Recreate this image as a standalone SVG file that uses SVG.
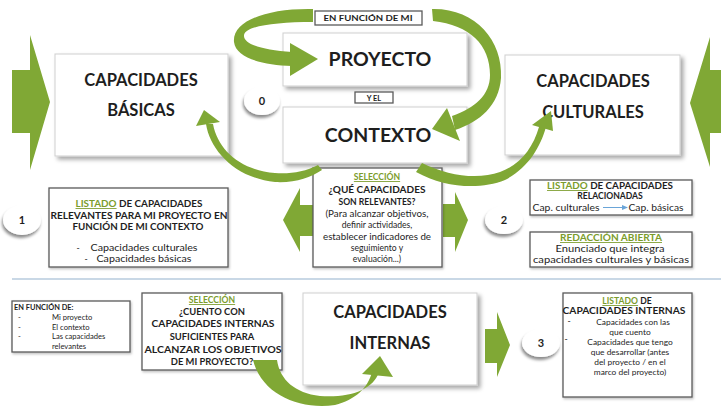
<svg xmlns="http://www.w3.org/2000/svg" width="721" height="408" viewBox="0 0 721 408">
<style>
text{font-family:Lato,"Liberation Sans",sans-serif;fill:#1e1e1e;text-anchor:middle}
.big{font-size:16.5px;font-weight:bold}
.huge{font-size:19.5px;font-weight:bold}
.b{font-size:8.6px;font-weight:bold}
.r{font-size:8.6px}
.s{font-size:7.4px;font-weight:bold}
.g{fill:#7b9c2c;text-decoration:underline}
.node{fill:#fff;stroke:#cfcfcf;stroke-width:1}
.box{fill:#fff;stroke:#5a5a5a;stroke-width:1.3}
.arr{fill:#80a835}
.circ{fill:#fff}
</style>
<defs>
<filter id="sh" x="-10%" y="-10%" width="130%" height="140%"><feDropShadow dx="3" dy="3" stdDeviation="2" flood-color="#000" flood-opacity="0.35"/></filter>
<filter id="csh" x="-30%" y="-30%" width="160%" height="180%"><feDropShadow dx="-1" dy="3" stdDeviation="1.5" flood-color="#000" flood-opacity="0.45"/></filter>
<filter id="bsh" x="-10%" y="-10%" width="130%" height="140%"><feDropShadow dx="1" dy="1.5" stdDeviation="1" flood-color="#000" flood-opacity="0.25"/></filter>
</defs>
<rect width="721" height="408" fill="#fff"/>
<line x1="12" y1="279" x2="721" y2="279" stroke="#c9d8e6" stroke-width="2"/>

<g id="big-arrows" class="arr">
<polygon points="12,70 30,70 30,35 50,102 30,170 30,133 12,133"/>
<polygon points="721,70 710,70 710,37 690,103 710,167 710,133 721,133"/>
<polygon points="313,205 300,205 300,188 283,220 300,252 300,236 313,236"/>
<polygon points="443,204 455,204 455,192 468,220 455,252 455,237 443,237"/>
<polygon points="485,329 497,329 497,312 510,345 497,377 497,363 485,363"/>
</g>

<g id="basicas">
<rect class="node" x="55" y="54" width="173" height="102" filter="url(#sh)"/>
<text class="big" x="141" y="86">CAPACIDADES</text>
<text class="big" x="141" y="116">BÁSICAS</text>
</g>
<g id="culturales">
<rect class="node" x="505" y="55" width="175" height="100" filter="url(#sh)"/>
<text class="big" x="593" y="87">CAPACIDADES</text>
<text class="big" x="593" y="118">CULTURALES</text>
</g>
<g id="proyecto">
<rect class="node" x="283" y="33" width="184" height="53" filter="url(#sh)"/>
<text class="huge" x="380" y="66">PROYECTO</text>
</g>
<g id="contexto">
<rect class="node" x="283" y="107" width="184" height="56" filter="url(#sh)"/>
<text class="huge" x="378" y="142">CONTEXTO</text>
</g>
<g id="en-funcion-mi">
<rect class="box" x="315" y="11" width="107" height="14"/>
<text class="s" x="368" y="21" textLength="89" lengthAdjust="spacingAndGlyphs">EN FUNCIÓN DE MI</text>
</g>
<g id="y-el">
<rect class="box" x="355" y="92" width="38" height="11"/>
<text class="s" x="374" y="101">Y EL</text>
</g>
<g id="c0">
<ellipse class="circ" cx="262" cy="101" rx="18" ry="14" filter="url(#csh)"/>
<text class="b" x="262" y="105" style="font-size:11px">0</text>
</g>
<g id="c1">
<ellipse class="circ" cx="22" cy="220" rx="19" ry="15" filter="url(#csh)"/>
<text class="b" x="22" y="224" style="font-size:11px">1</text>
</g>
<g id="c2">
<ellipse class="circ" cx="504" cy="220" rx="19" ry="14" filter="url(#csh)"/>
<text class="b" x="504" y="224" style="font-size:11px">2</text>
</g>
<g id="c3">
<ellipse class="circ" cx="541" cy="343" rx="19" ry="14" filter="url(#csh)"/>
<text class="b" x="541" y="347" style="font-size:11px">3</text>
</g>

<g id="seleccion1">
<rect class="box" x="313" y="168" width="129" height="99" filter="url(#bsh)"/>
<text class="b g" x="377" y="180">SELECCIÓN</text>
<text class="b" x="377" y="193" textLength="97" lengthAdjust="spacingAndGlyphs">¿QUÉ CAPACIDADES</text>
<text class="b" x="377" y="205">SON RELEVANTES?</text>
<text class="r" x="377" y="217" textLength="103" lengthAdjust="spacingAndGlyphs">(Para alcanzar objetivos,</text>
<text class="r" x="377" y="228">definir actividades,</text>
<text class="r" x="377" y="240" textLength="108" lengthAdjust="spacingAndGlyphs">establecer indicadores de</text>
<text class="r" x="377" y="251">seguimiento y</text>
<text class="r" x="377" y="262">evaluación...)</text>
</g>

<g id="listado1">
<rect class="box" x="49" y="188" width="179" height="79" filter="url(#bsh)"/>
<text class="b" x="139" y="207" textLength="127" lengthAdjust="spacingAndGlyphs"><tspan class="g">LISTADO</tspan> DE CAPACIDADES</text>
<text class="b" x="139" y="219" textLength="177" lengthAdjust="spacingAndGlyphs">RELEVANTES PARA MI PROYECTO EN</text>
<text class="b" x="138" y="230" textLength="131" lengthAdjust="spacingAndGlyphs">FUNCIÓN DE MI CONTEXTO</text>
<text class="r" x="78" y="251">-</text>
<text class="r" x="144" y="251" textLength="107" lengthAdjust="spacingAndGlyphs">Capacidades culturales</text>
<text class="r" x="86" y="262">-</text>
<text class="r" x="144" y="262" textLength="95" lengthAdjust="spacingAndGlyphs">Capacidades básicas</text>
</g>

<g id="listado2">
<rect class="box" x="530" y="180" width="162" height="35" filter="url(#bsh)"/>
<text class="b" x="610" y="189" textLength="126" lengthAdjust="spacingAndGlyphs"><tspan class="g">LISTADO</tspan> DE CAPACIDADES</text>
<text class="b" x="610" y="199">RELACIONADAS</text>
<text class="r" x="566" y="211" textLength="67" lengthAdjust="spacingAndGlyphs">Cap. culturales</text>
<line x1="603" y1="207.5" x2="624" y2="207.5" stroke="#6aa5d8" stroke-width="1"/>
<polygon points="628,207.5 622,205 622,210" fill="#6aa5d8"/>
<text class="r" x="656" y="211" textLength="55" lengthAdjust="spacingAndGlyphs">Cap. básicas</text>
</g>

<g id="redaccion">
<rect class="box" x="530" y="232" width="162" height="35" filter="url(#bsh)"/>
<text class="b g" x="611" y="241" textLength="102" lengthAdjust="spacingAndGlyphs">REDACCIÓN ABIERTA</text>
<text class="r" x="610" y="252" textLength="109" lengthAdjust="spacingAndGlyphs">Enunciado que integra</text>
<text class="r" x="611" y="263" textLength="156" lengthAdjust="spacingAndGlyphs">capacidades culturales y básicas</text>
</g>

<g id="en-funcion-de">
<rect class="box" x="12" y="301" width="118" height="51" filter="url(#bsh)"/>
<text class="s" x="14" y="310" style="text-anchor:start">EN FUNCIÓN DE:</text>
<text class="r" x="18" y="320" style="text-anchor:start;font-size:7.6px">-</text>
<text class="r" x="18" y="330" style="text-anchor:start;font-size:7.6px">-</text>
<text class="r" x="18" y="339" style="text-anchor:start;font-size:7.6px">-</text>
<text class="r" x="52" y="320" style="text-anchor:start;font-size:7.6px">Mi proyecto</text>
<text class="r" x="52" y="330" style="text-anchor:start;font-size:7.6px">El contexto</text>
<text class="r" x="52" y="339" style="text-anchor:start;font-size:7.6px">Las capacidades</text>
<text class="r" x="52" y="349" style="text-anchor:start;font-size:7.6px">relevantes</text>
</g>

<g id="seleccion2">
<rect class="box" x="142" y="293" width="140" height="77" filter="url(#bsh)"/>
<text class="b g" x="212" y="303">SELECCIÓN</text>
<text class="b" x="212" y="315" style="font-size:9.4px">¿CUENTO CON</text>
<text class="b" x="213" y="327" style="font-size:9.4px" textLength="123" lengthAdjust="spacingAndGlyphs">CAPACIDADES INTERNAS</text>
<text class="b" x="212" y="340" style="font-size:9.4px">SUFICIENTES PARA</text>
<text class="b" x="213" y="353" style="font-size:9.4px" textLength="137" lengthAdjust="spacingAndGlyphs">ALCANZAR LOS OBJETIVOS</text>
<text class="b" x="212" y="365" style="font-size:9.4px">DE MI PROYECTO?</text>
</g>

<g id="internas">
<rect class="node" x="303" y="293" width="174" height="92" filter="url(#sh)"/>
<text class="big" x="390" y="318">CAPACIDADES</text>
<text class="big" x="390" y="349">INTERNAS</text>
</g>

<g id="listado3">
<rect class="box" x="563" y="293" width="129" height="104" filter="url(#bsh)"/>
<text class="b" x="627" y="304"><tspan class="g">LISTADO</tspan> DE</text>
<text class="b" x="624" y="314" textLength="123" lengthAdjust="spacingAndGlyphs">CAPACIDADES INTERNAS</text>
<text class="r" x="569" y="324">-</text>
<text class="r" x="633" y="324.5" style="font-size:8.4px">Capacidades con las</text>
<text class="r" x="630" y="334.5" style="font-size:8.4px">que cuento</text>
<text class="r" x="566" y="342">-</text>
<text class="r" x="630" y="344.5" style="font-size:8.4px">Capacidades que tengo</text>
<text class="r" x="630" y="354.5" style="font-size:8.4px">que desarrollar (antes</text>
<text class="r" x="630" y="364.5" style="font-size:8.4px">del proyecto / en el</text>
<text class="r" x="630" y="374.5" style="font-size:8.4px">marco del proyecto)</text>
</g>

<g id="connectors" class="arr">
<path d="M313,9 C265,8 232,22 234,42 C236,58 262,65 292,66 L292,52 C262,50 243,44 244,35 C246,26 275,22 313,22 Z"/>
<polygon points="290,43 318,59 290,76"/>
<path d="M432,9 C475,8 503,40 501,78 C499,105 480,122 455,130 L452,116 C475,108 490,95 490,75 C490,45 470,25 433,21 Z"/>
<polygon points="447,108 432,129 460,141"/>
<path d="M322,170 C310,178 295,183 275,182 C235,178 210,150 206,124 L213,124 C218,150 240,170 275,173 C290,174 305,172 318,165 Z"/>
<polygon points="196,126 204,110 220,122"/>
<path d="M416,172 C445,188 480,190 505,180 C528,168 540,148 546,127 L539,127 C533,148 520,165 500,172 C478,180 448,176 422,163 Z"/>
<polygon points="532,125 551,111 553,131"/>
<path d="M253,360 C262,395 300,410 335,405 C355,400 368,388 372,372 L379,372 C373,390 350,398 320,396 C295,393 280,380 277,360 Z"/>
<polygon points="362,374 380,356 393,377"/>
</g>
</svg>
